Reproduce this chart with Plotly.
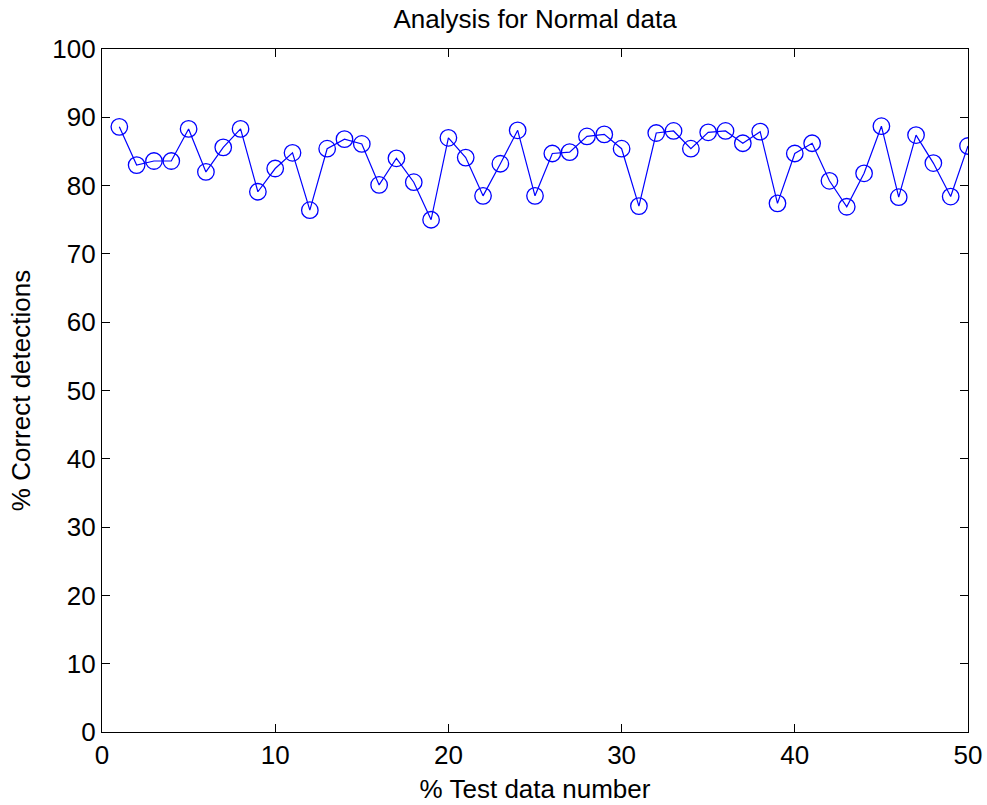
import plotly.graph_objects as go

test_number = list(range(1, 51))
correct_pct = [
    88.6, 83.0, 83.6, 83.6, 88.3, 82.0, 85.6, 88.3, 79.1, 82.5,
    84.8, 76.4, 85.4, 86.8, 86.1, 80.1, 84.0, 80.5, 75.0, 87.0,
    84.1, 78.5, 83.2, 88.1, 78.5, 84.7, 84.9, 87.2, 87.5, 85.4,
    77.0, 87.7, 88.0, 85.4, 87.8, 88.0, 86.2, 87.9, 77.4, 84.7,
    86.2, 80.7, 76.9, 81.8, 88.7, 78.3, 87.4, 83.3, 78.4, 85.8,
]
x_ticks = [0, 10, 20, 30, 40, 50]
y_ticks = [0, 10, 20, 30, 40, 50, 60, 70, 80, 90, 100]

FONT = "Liberation Sans, Arial, Helvetica, sans-serif"

fig = go.Figure()
fig.add_trace(go.Scatter(
    x=test_number, y=correct_pct,
    mode="lines+markers",
    line=dict(color="#0000FF", width=1.2),
    marker=dict(symbol="circle-open", size=16.5, color="#0000FF",
                line=dict(color="#0000FF", width=1.3)),
    showlegend=False,
))

axis_common = dict(
    showline=True, linecolor="black", linewidth=1.3,
    mirror="ticks", ticks="inside", ticklen=8, tickwidth=1,
    tickcolor="black", showgrid=False, zeroline=False, automargin=False,
    tickfont=dict(family=FONT, size=26, color="black"),
)

fig.update_layout(
    width=987, height=805,
    margin=dict(l=102, r=19, t=49, b=73),
    paper_bgcolor="white", plot_bgcolor="white",
    font=dict(family=FONT, size=26, color="black"),
    title=dict(text="Analysis for Normal data", x=0.5, xref="paper",
               y=1 - 19 / 805, yref="container", yanchor="middle",
               font=dict(family=FONT, size=26, color="black")),
    xaxis=dict(range=[0, 50], tickvals=x_ticks, ticklabelstandoff=0,
               title=dict(text="% Test data number", standoff=10,
                          font=dict(family=FONT, size=26, color="black")),
               **axis_common),
    yaxis=dict(range=[0, 100], tickvals=y_ticks, ticklabelstandoff=0,
               title=dict(text="% Correct detections", standoff=14,
                          font=dict(family=FONT, size=26, color="black")),
               **axis_common),
)

fig.write_html(
    "out.html",
    config={"displayModeBar": False},
    post_script="document.body.style.margin='0';"
                "document.body.style.overflow='hidden';"
                "document.documentElement.style.overflow='hidden';",
)
